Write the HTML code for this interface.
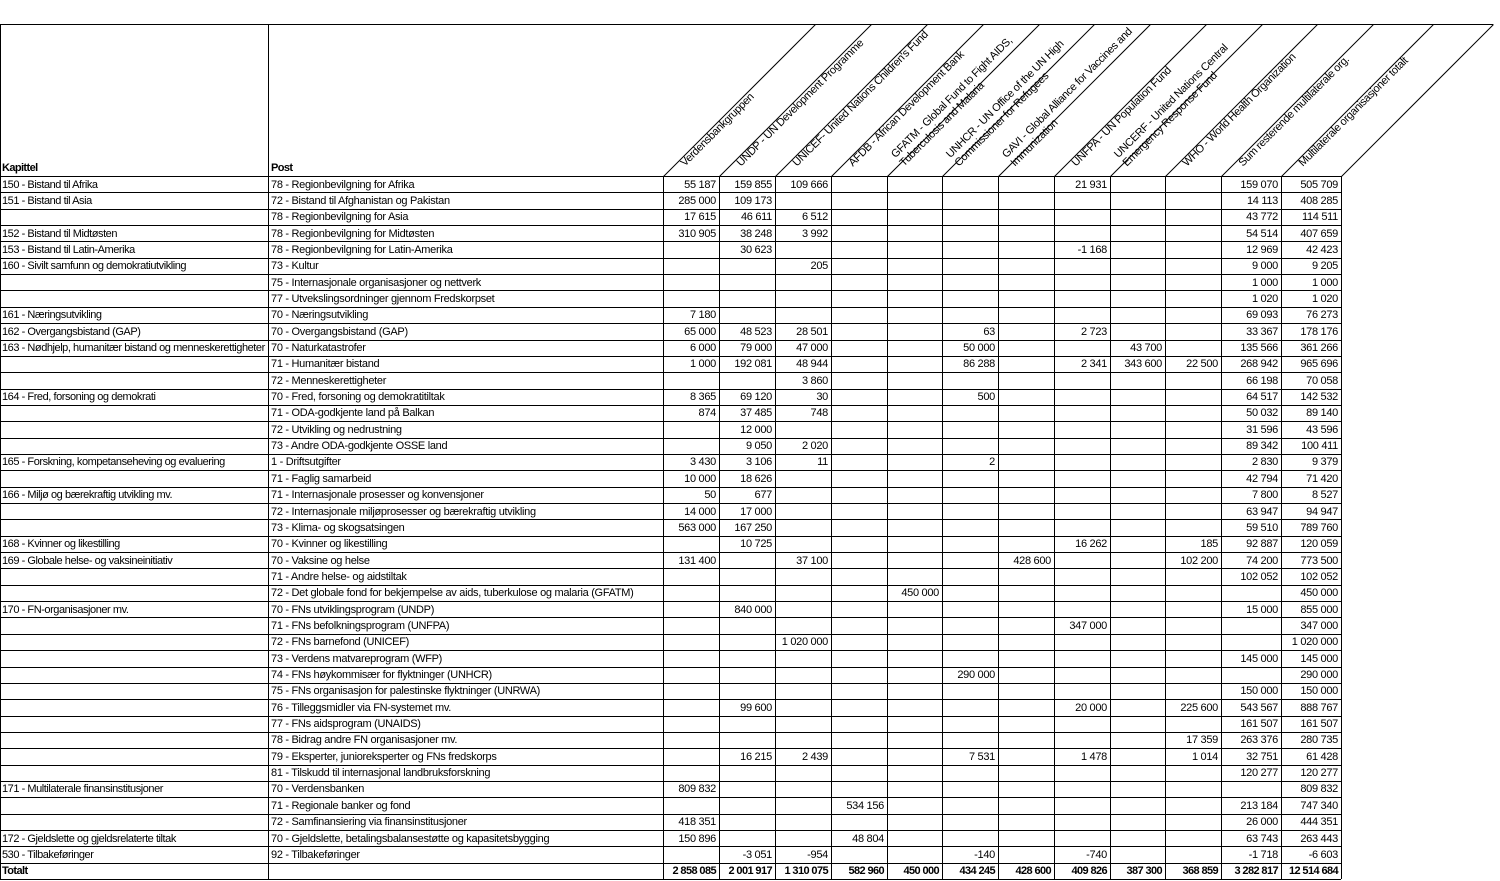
<!DOCTYPE html>
<html><head><meta charset="utf-8">
<style>
body{margin:0;background:#fff;}
#wrap{position:relative;width:1500px;height:881px;overflow:hidden;font-family:"Liberation Sans",sans-serif;font-size:11px;color:#000;}
.h{position:absolute;height:1px;background:#000;}
.v{position:absolute;width:1px;background:#000;}
.c{position:absolute;white-space:nowrap;overflow:visible;line-height:16px;letter-spacing:-0.3px;}
.k{letter-spacing:-0.45px;}
.r{text-align:right;}
.lab{position:absolute;transform-origin:0 100%;transform:rotate(-45deg);white-space:nowrap;font-size:11px;line-height:12px;letter-spacing:-0.35px;}
</style></head><body>
<div id="wrap"></div>
<script>
const colX=[0,268,663,719,775,831,887,942,998,1054,1110,1165,1221,1281,1341];
const headers=[["Verdensbankgruppen"],["UNDP - UN Development Programme"],["UNICEF- United Nations Children's Fund"],["AFDB - African Development Bank"],["GFATM - Global Fund to Fight AIDS,","Tuberculosis and Malaria"],["UNHCR - UN Office of the UN High","Commissioner for Refugees"],["GAVI - Global Alliance for Vaccines and","Immunization"],["UNFPA - UN Population Fund"],["UNCERF - United Nations Central","Emergency Response Fund"],["WHO - World Health Organization"],["Sum resterende multilaterale org."],["Multilaterale organisasjoner totalt"]];
const kapittel=["150 - Bistand til Afrika","151 - Bistand til Asia","","152 - Bistand til Midtøsten","153 - Bistand til Latin-Amerika","160 - Sivilt samfunn og demokratiutvikling","","","161 - Næringsutvikling","162 - Overgangsbistand (GAP)","163 - Nødhjelp, humanitær bistand og menneskerettigheter","","","164 - Fred, forsoning og demokrati","","","","165 - Forskning, kompetanseheving og evaluering","","166 - Miljø og bærekraftig utvikling mv.","","","168 - Kvinner og likestilling","169 - Globale helse- og vaksineinitiativ","","","170 - FN-organisasjoner mv.","","","","","","","","","","","171 - Multilaterale finansinstitusjoner","","","172 - Gjeldslette og gjeldsrelaterte tiltak","530 - Tilbakeføringer","Totalt"];
const post=["78 - Regionbevilgning for Afrika","72 - Bistand til Afghanistan og Pakistan","78 - Regionbevilgning for Asia","78 - Regionbevilgning for Midtøsten","78 - Regionbevilgning for Latin-Amerika","73 - Kultur","75 - Internasjonale organisasjoner og nettverk","77 - Utvekslingsordninger gjennom Fredskorpset","70 - Næringsutvikling","70 - Overgangsbistand (GAP)","70 - Naturkatastrofer","71 - Humanitær bistand","72 - Menneskerettigheter","70 - Fred, forsoning og demokratitiltak","71 - ODA-godkjente land på Balkan","72 - Utvikling og nedrustning","73 - Andre ODA-godkjente OSSE land","1 - Driftsutgifter","71 - Faglig samarbeid","71 - Internasjonale prosesser og konvensjoner","72 - Internasjonale miljøprosesser og bærekraftig utvikling","73 - Klima- og skogsatsingen","70 - Kvinner og likestilling","70 - Vaksine og helse","71 - Andre helse- og aidstiltak","72 - Det globale fond for bekjempelse av aids, tuberkulose og malaria (GFATM)","70 - FNs utviklingsprogram (UNDP)","71 - FNs befolkningsprogram (UNFPA)","72 - FNs barnefond (UNICEF)","73 - Verdens matvareprogram (WFP)","74 - FNs høykommisær for flyktninger (UNHCR)","75 - FNs organisasjon for palestinske flyktninger (UNRWA)","76 - Tilleggsmidler via FN-systemet mv.","77 - FNs aidsprogram (UNAIDS)","78 - Bidrag andre FN organisasjoner mv.","79 - Eksperter, junioreksperter og FNs fredskorps","81 - Tilskudd til internasjonal landbruksforskning","70 - Verdensbanken","71 - Regionale banker og fond","72 - Samfinansiering via finansinstitusjoner","70 - Gjeldslette, betalingsbalansestøtte og kapasitetsbygging","92 - Tilbakeføringer",""];
// columns: Verd, UNDP, UNICEF, AFDB, GFATM, UNHCR, GAVI, UNFPA, UNCERF, WHO, Sum, Total
const values=[
["55 187","159 855","109 666","","","","","21 931","","","159 070","505 709"],
["285 000","109 173","","","","","","","","","14 113","408 285"],
["17 615","46 611","6 512","","","","","","","","43 772","114 511"],
["310 905","38 248","3 992","","","","","","","","54 514","407 659"],
["","30 623","","","","","","-1 168","","","12 969","42 423"],
["","","205","","","","","","","","9 000","9 205"],
["","","","","","","","","","","1 000","1 000"],
["","","","","","","","","","","1 020","1 020"],
["7 180","","","","","","","","","","69 093","76 273"],
["65 000","48 523","28 501","","","63","","2 723","","","33 367","178 176"],
["6 000","79 000","47 000","","","50 000","","","43 700","","135 566","361 266"],
["1 000","192 081","48 944","","","86 288","","2 341","343 600","22 500","268 942","965 696"],
["","","3 860","","","","","","","","66 198","70 058"],
["8 365","69 120","30","","","500","","","","","64 517","142 532"],
["874","37 485","748","","","","","","","","50 032","89 140"],
["","12 000","","","","","","","","","31 596","43 596"],
["","9 050","2 020","","","","","","","","89 342","100 411"],
["3 430","3 106","11","","","2","","","","","2 830","9 379"],
["10 000","18 626","","","","","","","","","42 794","71 420"],
["50","677","","","","","","","","","7 800","8 527"],
["14 000","17 000","","","","","","","","","63 947","94 947"],
["563 000","167 250","","","","","","","","","59 510","789 760"],
["","10 725","","","","","","16 262","","185","92 887","120 059"],
["131 400","","37 100","","","","428 600","","","102 200","74 200","773 500"],
["","","","","","","","","","","102 052","102 052"],
["","","","","450 000","","","","","","","450 000"],
["","840 000","","","","","","","","","15 000","855 000"],
["","","","","","","","347 000","","","","347 000"],
["","","1 020 000","","","","","","","","","1 020 000"],
["","","","","","","","","","","145 000","145 000"],
["","","","","","290 000","","","","","","290 000"],
["","","","","","","","","","","150 000","150 000"],
["","99 600","","","","","","20 000","","225 600","543 567","888 767"],
["","","","","","","","","","","161 507","161 507"],
["","","","","","","","","","17 359","263 376","280 735"],
["","16 215","2 439","","","7 531","","1 478","","1 014","32 751","61 428"],
["","","","","","","","","","","120 277","120 277"],
["809 832","","","","","","","","","","","809 832"],
["","","","534 156","","","","","","","213 184","747 340"],
["418 351","","","","","","","","","","26 000","444 351"],
["150 896","","","48 804","","","","","","","63 743","263 443"],
["","-3 051","-954","","","-140","","-740","","","-1 718","-6 603"],
["2 858 085","2 001 917","1 310 075","582 960","450 000","434 245","428 600","409 826","387 300","368 859","3 282 817","12 514 684"]
];
const W=document.getElementById('wrap');
const TOP=24,HB=176,RH=16.35;
function line(cls,x,y,w,h,name){const d=document.createElement('div');d.className=cls;d.style.left=x+'px';d.style.top=y+'px';if(w)d.style.width=w+'px';if(h)d.style.height=h+'px';


W.appendChild(d);}
const nRows=values.length;
const bottom=HB+nRows*RH;
line('h',0,TOP,1493,0,'header-top-border');
for(let i=0;i<=nRows;i++){line('h',0,Math.round(HB+i*RH),1341,0,'row-border');}
line('v',0,TOP,0,bottom-TOP,'left-border');
line('v',268,TOP,0,bottom-TOP,'kapittel-post-divider');
for(let j=2;j<colX.length;j++){line('v',colX[j],HB,0,bottom-HB,'column-border');}
const svgNS='http://www.w3.org/2000/svg';
const svg=document.createElementNS(svgNS,'svg');
svg.setAttribute('width','1500');svg.setAttribute('height','881');
svg.style.position='absolute';svg.style.left='0';svg.style.top='0';


W.appendChild(svg);
for(let j=2;j<colX.length;j++){const l=document.createElementNS(svgNS,'line');
l.setAttribute('x1',colX[j]+0.5);l.setAttribute('y1',HB+0.5);l.setAttribute('x2',colX[j]+0.5+(HB-TOP));l.setAttribute('y2',TOP+0.5);
l.setAttribute('stroke','#000');l.setAttribute('stroke-width','1');


svg.appendChild(l);}
function cell(txt,x,y,w,right,bold,name,extra){const d=document.createElement('div');d.className='c'+(right?' r':'')+(extra?' '+extra:'');
d.style.left=x+'px';d.style.top=y+'px';d.style.width=w+'px';if(bold){d.style.fontWeight='bold';d.style.letterSpacing='-0.6px';}d.textContent=txt;


W.appendChild(d);}
cell('Kapittel',2,HB-16,260,false,true,'kapittel-header');
cell('Post',271,HB-16,380,false,true,'post-header');
headers.forEach((h,j)=>{const d=document.createElement('div');d.className='lab';
d.style.left=(colX[j+2]+(h.length>1?19:24))+'px';d.style.top=(HB-7-12*h.length)+'px';
d.innerHTML=h.join('<br>');


W.appendChild(d);});
for(let i=0;i<nRows;i++){const y=HB+i*RH+0.5;const tot=i===nRows-1;
cell(kapittel[i],2,y,264,false,tot,'kapittel-cell','k');
cell(post[i],271,y,390,false,false,'post-cell');
values[i].forEach((v,j)=>{if(v!=='')cell(v,colX[j+2]+1,y,colX[j+3]-colX[j+2]-4,true,tot,'value-cell');});}
</script>
</body></html>
